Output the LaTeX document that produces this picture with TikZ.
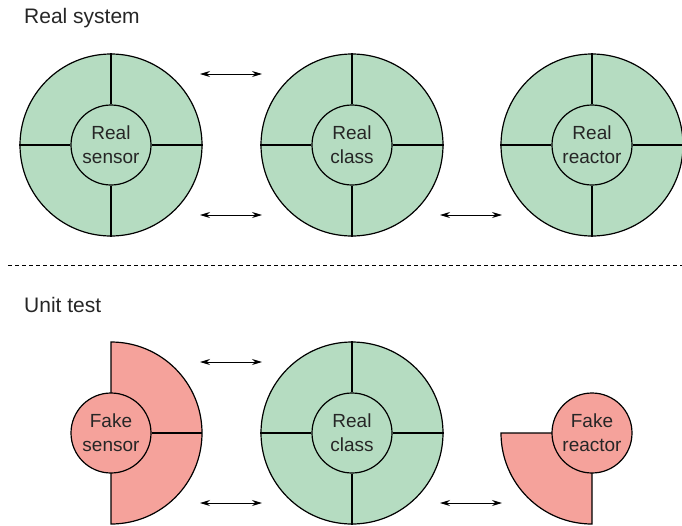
\documentclass[tikz,border=0pt]{standalone}
\usepackage{fontspec}
\setmainfont{Liberation Sans}
\usetikzlibrary{arrows.meta}
\definecolor{realgreen}{HTML}{B5DCC1}
\definecolor{fakepink}{HTML}{F5A29B}
\tikzset{
  wheel/.style={circle, draw=black, line width=1.2pt, fill=realgreen, minimum size=182pt, inner sep=0pt},
  hub/.style={circle, draw=black, line width=1.2pt, minimum size=80pt, inner sep=0pt, align=center, font=\fontsize{19}{24}\selectfont, text=black!85},
  spoke/.style={draw=black, line width=1.2pt},
  link/.style={draw=black, line width=0.9pt, {Stealth[length=10pt,width=6pt]}-{Stealth[length=10pt,width=6pt]}},
  heading/.style={anchor=west, font=\fontsize{21}{25}\selectfont, text=black!85, inner sep=0pt}
}
\begin{document}
\begin{tikzpicture}[x=1pt,y=-1pt]
\useasboundingbox (0,0) rectangle (682,525);
% headings
\node[heading] (h1) at (24,18) {Real system};
\node[heading] (h2) at (24,305) {Unit test};
% dashed separator
\coordinate (d1) at (8,265);
\coordinate (d2) at (682,265);
\draw[line width=0.8pt, dash pattern=on 4pt off 3pt] (d1) -- (d2);
% top row wheels
\foreach \n/\x/\t in {s/111/{Real\\sensor}, c/352/{Real\\class}, r/592/{Real\\reactor}}{
  \node[wheel] (w\n) at (\x,145) {};
  \node[hub, fill=realgreen] (i\n) at (\x,145) {\t};
  \draw[spoke] (i\n.north) -- (w\n.north);
  \draw[spoke] (i\n.south) -- (w\n.south);
  \draw[spoke] (i\n.east) -- (w\n.east);
  \draw[spoke] (i\n.west) -- (w\n.west);
}
% bottom middle wheel
\node[wheel] (wc2) at (352,433) {};
\node[hub, fill=realgreen] (ic2) at (352,433) {Real\\class};
\draw[spoke] (ic2.north) -- (wc2.north);
\draw[spoke] (ic2.south) -- (wc2.south);
\draw[spoke] (ic2.east) -- (wc2.east);
\draw[spoke] (ic2.west) -- (wc2.west);
% fake sensor: right half disc
\coordinate (fsc) at (111,433);
\draw[line width=1.2pt, fill=fakepink] (111,342) arc[start angle=90, end angle=-90, x radius=91, y radius=-91] -- cycle;
\node[hub, fill=fakepink] (ifs) at (fsc) {Fake\\sensor};
\draw[spoke] (ifs.east) -- (202,433);
% fake reactor: bottom-left quarter disc
\draw[line width=1.2pt, fill=fakepink] (592,433) -- (501,433) arc[start angle=180, end angle=270, x radius=91, y radius=-91] -- cycle;
\node[hub, fill=fakepink] (ifr) at (592,433) {Fake\\reactor};
% arrows
\coordinate (a1) at (200,74);   \coordinate (b1) at (262,74);
\coordinate (a2) at (200,215);  \coordinate (b2) at (262,215);
\coordinate (a3) at (440,215);  \coordinate (b3) at (502,215);
\coordinate (a4) at (200,362);  \coordinate (b4) at (262,362);
\coordinate (a5) at (200,503);  \coordinate (b5) at (262,503);
\coordinate (a6) at (440,503);  \coordinate (b6) at (502,503);
\foreach \i in {1,...,6}{\draw[link] (a\i) -- (b\i);}
\end{tikzpicture}
\end{document}
